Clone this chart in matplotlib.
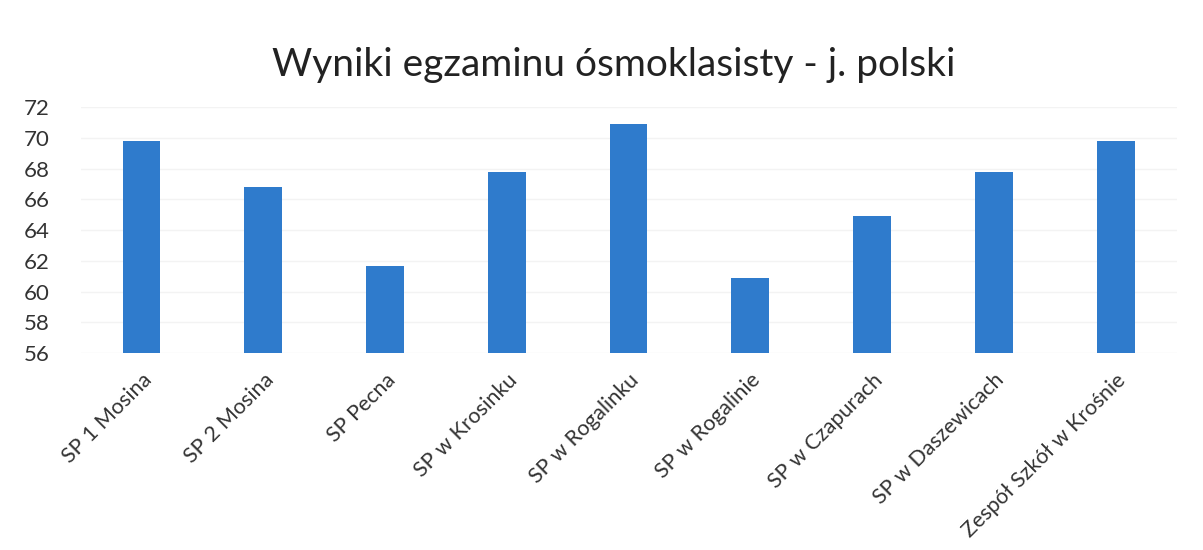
import matplotlib.pyplot as plt

# Data
schools = ['SP 1 Mosina', 'SP 2 Mosina', 'SP Pecna', 'SP w Krosinku', 'SP w Rogalinku',
           'SP w Rogalinie', 'SP w Czapurach', 'SP w Daszewicach', 'Zespół Szkół w Krośnie']
scores = [69.8, 66.8, 61.7, 67.8, 70.9, 60.9, 64.9, 67.8, 69.8]
y_ticks = list(range(56, 73, 2))

plt.rcParams['font.family'] = ['Lato', 'DejaVu Sans']

fig = plt.figure(figsize=(12.03, 5.5), dpi=100, facecolor='w')
ax = fig.add_axes([0.067, 0.358, 0.911, 0.447])

x = range(len(schools))
ax.bar(x, [s - 56 for s in scores], bottom=56, width=0.31, color='#2f7bcc', zorder=2)

ax.set_ylim(56, 72)
ax.set_xlim(-0.5, len(schools) - 0.5)
ax.set_yticks(y_ticks)
ax.set_yticklabels([str(t) for t in y_ticks], fontsize=16, color='#333333')
ax.set_xticks(list(x))
ax.set_xticklabels(schools, rotation=45, ha='right', rotation_mode='anchor',
                   fontsize=15.5, color='#333333')
ax.tick_params(axis='y', length=0, pad=22)
ax.tick_params(axis='x', length=0, pad=12)
ax.yaxis.grid(True, color='#f3f3f3', linewidth=1, zorder=0)
for s in ax.spines.values():
    s.set_visible(False)

fig.text(0.51, 0.882, 'Wyniki egzaminu ósmoklasisty - j. polski', ha='center', va='center',
         fontsize=28, color='#222222')

plt.savefig('out.png', dpi=100)
